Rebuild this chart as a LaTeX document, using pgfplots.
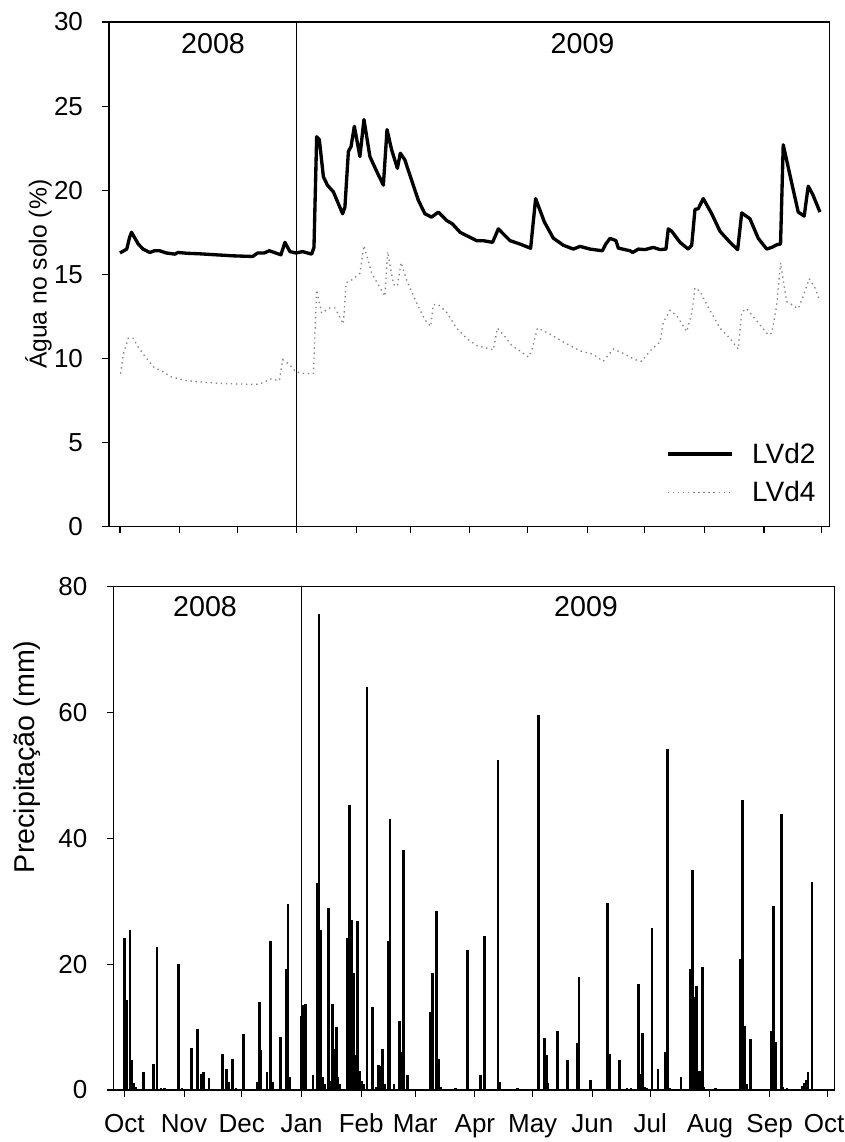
\documentclass[border=0pt]{standalone}
\usepackage{pgfplots}
\pgfplotsset{compat=1.18}
\usepackage{fontspec}
\setmainfont{Liberation Sans}

\begin{document}
\begin{tikzpicture}
\useasboundingbox (0,0) rectangle (633pt,856.5pt);
\pgfplotsset{
  common/.style={
    scale only axis,
    axis line style={line width=0.8pt},
    every tick/.style={line width=0.8pt, black},
    major tick length=5pt,
    tick align=outside,
    xtick pos=bottom, ytick pos=left,
    xtick={0,31,61,92,123,151,182,212,243,273,304,335,365},
    /pgf/number format/assume math mode=true,
    tick label style={font=\fontsize{19.5}{22}\selectfont},
    yticklabel style={xshift=-11pt},
    clip=true,
  }
}
% ---------------- top panel ----------------
\begin{axis}[common,
  at={(81.75pt,461.5pt)}, anchor=south west,
  width=540.2pt, height=378.5pt,
  xmin=-5.72, xmax=368.95, ymin=0, ymax=30,
  ytick={0,5,...,30},
  xticklabels={},
  ylabel={Água no solo (\%)},
  ylabel style={at={(axis description cs:-0.098,0.5)}, anchor=center, font=\fontsize{18.5}{22}\selectfont},
  legend style={draw=none, fill=none, at={(axis description cs:0.985,0.04)}, anchor=south east,
    font=\fontsize{21}{24}\selectfont, row sep=8pt, column sep=12pt, inner sep=0pt},
  legend cell align=left,
  legend image code/.code={\draw[#1] (0pt,0pt) -- (48pt,0pt);},
]
\addplot[black, line width=2.5pt, line join=round] coordinates {
(0,16.27) (2,16.4) (3.5,16.5) (5,17.2) (6,17.5) (7,17.3) (9.5,16.8) (12,16.5) (15.5,16.3) (18,16.4)
(20.7,16.4) (24,16.27) (28.5,16.2) (30.2,16.3) (35,16.25) (41.4,16.22) (50,16.16) (58.7,16.1) (69,16.06)
(71.6,16.27) (75,16.27) (77.7,16.4) (83.7,16.16) (85.8,16.9) (88.4,16.35) (91.5,16.27) (95,16.35)
(99.7,16.2) (100.9,16.6) (102.3,23.18) (103.7,23.0) (105.8,20.8) (107.9,20.3) (111,19.9) (115.8,18.6)
(117,19.0) (118.8,22.3) (120.2,22.6) (121.9,23.8) (124.8,22.0) (126.9,24.2) (130,22.0) (133.2,21.2)
(137,20.3) (138.9,23.6) (141.3,22.4) (144.3,21.3) (145.8,22.2) (148.2,21.8) (150.8,20.9) (155.2,19.4)
(158.6,18.6) (162.1,18.4) (165.6,18.7) (169.9,18.2) (172.9,18.0) (176.9,17.5) (180.3,17.3) (185.5,17.0)
(189,17.0) (193.8,16.9) (196.8,17.7) (199.4,17.4) (202.9,17.0) (208.1,16.8) (213.6,16.55) (216.2,19.5)
(220.8,18.1) (225.4,17.15) (230.6,16.73) (235.8,16.5) (239.3,16.66) (244.5,16.5) (250.9,16.4) (252.7,16.8)
(254.9,17.14) (258,17.0) (259.2,16.56) (265.3,16.4) (266.7,16.3) (269.6,16.5) (273.1,16.47) (277.4,16.6)
(280.9,16.47) (284,16.5) (285.2,17.7) (287,17.56) (291.3,16.9) (295.6,16.5) (297.4,16.73) (299.1,18.86)
(300.8,18.9) (303.4,19.5) (307.8,18.6) (312.1,17.56) (317.3,16.9) (321.3,16.47) (323.4,18.65) (327.7,18.3)
(332,17.14) (336.4,16.5) (339,16.6) (341.9,16.77) (343.6,16.8) (345,22.7) (348.1,21.1) (352.8,18.7)
(355.9,18.46) (358,20.24) (360.3,19.76) (364.1,18.7)
};
\addlegendentry{LVd2}
\addplot[black!50, line width=1pt, dash pattern=on 1pt off 2.8pt] coordinates {
(0.3,9.1) (1.7,10.24) (4.3,11.2) (6.9,11.2) (9.5,10.66) (12.9,10.14) (17.3,9.5) (22.4,9.2) (26.8,8.9)
(34.5,8.68) (44.9,8.57) (55.2,8.5) (65.6,8.47) (72.5,8.47) (78.5,8.78) (82.9,8.68) (84.6,9.93) (88,9.65)
(91.5,9.2) (95.8,9.1) (100.6,9.1) (102.3,14.07) (104.9,12.7) (109.2,13.0) (111.8,13.0) (113.6,12.6)
(116.2,12.05) (117.6,14.5) (120.5,14.66) (124.8,15.06) (126.9,16.7) (130.9,15.06) (137.8,13.7) (139.2,16.35)
(142.2,14.4) (144.3,14.3) (146.2,15.7) (149.1,14.66) (154.3,13.3) (158.6,12.3) (161.6,11.9) (163,13.2)
(165.6,13.2) (169.9,12.75) (175.1,11.8) (180.3,11.19) (185.5,10.77) (192.5,10.56) (194.2,10.5) (196.3,11.8)
(200.3,11.29) (203.7,10.77) (208.1,10.45) (212.4,10.08) (214.1,10.45) (217.1,11.8) (222.8,11.5) (230.6,10.98)
(239.3,10.45) (246.2,10.24) (251.4,9.83) (256.6,10.56) (260.9,10.35) (267.9,9.93) (271.4,9.83) (275.7,10.45)
(280.9,10.98) (282.6,12.13) (286.1,12.86) (289.6,12.54) (294.8,11.6) (297.4,12.65) (299.1,14.2) (301.7,14.0)
(305.2,13.2) (312.1,11.8) (317.3,11.19) (321.6,10.56) (323.4,12.75) (326,12.96) (331.2,12.23) (337.2,11.4)
(339,11.5) (341.6,13.17) (343.6,15.68) (346.8,13.38) (352.8,12.96) (355.4,13.7) (358.5,14.74) (361.5,14.2)
(364.1,13.38)
};
\addlegendentry{LVd4}
\addplot[black, line width=0.6pt, forget plot] coordinates {(92,0) (92,30)};
\node[font=\fontsize{21.5}{24}\selectfont] at (axis cs:48.4,28.7) {2008};
\node[font=\fontsize{21.5}{24}\selectfont] at (axis cs:240.6,28.7) {2009};
\end{axis}
% ---------------- bottom panel ----------------
\begin{axis}[common,
  at={(85pt,39pt)}, anchor=south west,
  width=540.75pt, height=377.5pt,
  xmin=-5.71, xmax=368.6, ymin=0, ymax=80,
  ytick={0,20,40,60,80},
  xticklabels={Oct,Nov,Dec,Jan,Feb,Mar,Apr,May,Jun,Jul,Aug,Sep,Oct\kern5pt},
  xticklabel style={font=\fontsize{19.5}{22}\selectfont, text height=15pt, text depth=4pt, yshift=-8pt},
  ylabel={Precipitação (mm)},
  ylabel style={at={(axis description cs:-0.12,0.662)}, anchor=center, font=\fontsize{21.5}{24}\selectfont},
]
\addplot[ycomb, black, line width=2pt] coordinates {
(0,24.2) (1,14.3) (3,25.5) (4,4.8) (5,1.1) (6,0.4) (10,2.8) (15,4.1) (17,22.7) (19,0.3) (21,0.3)
(28,20.1) (30,0.3) (35,6.6) (38,9.7) (40,2.6) (41,2.9) (44,1.9) (51,5.7) (53,3.3) (54,1.3) (56,5.0)
(58,0.3) (62,8.9) (69,1.3) (70,14.0) (71,6.3) (74,2.9) (76,23.7) (77,1.3) (81,8.5) (84,19.2) (85,29.6)
(86,2.0) (92,11.8) (93,13.5) (94,13.7) (98,2.4) (100,32.9) (101,75.6) (102,25.5) (103,2.0) (104,1.0)
(106,29.0) (107,1.5) (108,13.7) (109,6.5) (110,10.0) (111,2.0) (112,1.0) (116,24.2) (117,45.3)
(118,27.0) (119,18.6) (120,5.5) (121,26.8) (122,3.0) (123,1.5) (124,1.0) (126,64.1) (129,13.2)
(131,0.5) (132,4.0) (133,3.8) (134,6.5) (135,1.0) (137,23.7) (138,43.0) (140,1.0) (143,11.0) (144,6.0)
(145,38.1) (147,2.4) (159,12.4) (160,18.6) (162,28.5) (163,5.0) (164,0.5) (172,0.3) (178,22.3)
(185,2.4) (187,24.5) (194,52.5) (195,1.3) (204,0.3) (215,59.6) (218,8.3) (219,5.5) (220,1.1) (225,9.3)
(230,4.7) (235,7.4) (236,17.9) (242,1.6) (251,29.8) (252,5.7) (257,4.7) (261,0.3) (263,0.3) (267,16.8)
(268,2.6) (269,9.0) (270,0.5) (271,0.3) (274,25.7) (277,3.4) (281,6.1) (282,54.2) (283,0.3) (289,2.1)
(294,19.3) (295,34.9) (296,14.8) (297,16.5) (298,3.0) (299,3.0) (300,19.6) (301,0.5) (307,0.3)
(320,20.9) (321,46.1) (322,10.1) (323,1.0) (325,8.1) (336,9.4) (337,29.3) (338,7.6) (341,43.8) (342,0.5)
(344,0.3) (352,0.6) (353,1.1) (354,1.6) (355,2.9) (357,33.1)
};
\addplot[black, line width=0.6pt] coordinates {(92,0) (92,80)};
\node[font=\fontsize{21.5}{24}\selectfont] at (axis cs:41.9,76.9) {2008};
\node[font=\fontsize{21.5}{24}\selectfont] at (axis cs:239.7,76.9) {2009};
\end{axis}
\end{tikzpicture}
\end{document}
